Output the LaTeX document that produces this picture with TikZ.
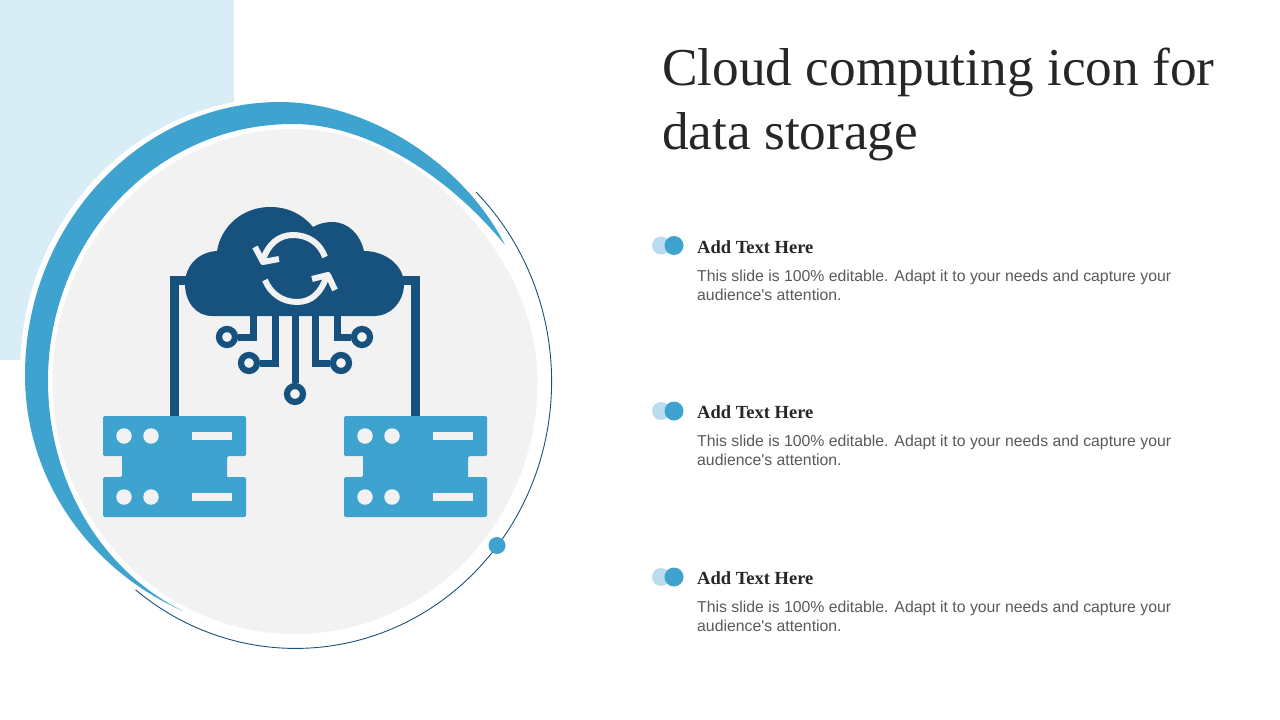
\documentclass[tikz,border=0pt]{standalone}
\usepackage{fontspec}
\setmainfont{Liberation Serif}
\newfontfamily\cuerpofont{Liberation Sans}
\definecolor{azuloscuro}{HTML}{17527F}
\definecolor{azul}{HTML}{3FA3D0}
\definecolor{azulclaro}{HTML}{BBDBEF}
\definecolor{celeste}{HTML}{D9EDF6}
\definecolor{gris}{HTML}{F2F2F2}
\tikzset{
	cable/.style={draw=azuloscuro, line width=7pt},
	cablegrueso/.style={draw=azuloscuro, line width=9pt},
	puerto/.style={circle, draw=azuloscuro, fill=gris, line width=6.2pt, minimum size=16pt, inner sep=0pt},
	flecha/.style={draw=gris, line width=6pt, line join=round},
	servidor/.style={fill=azul, rounded corners=1.5pt},
	luz/.style={circle, fill=gris, minimum size=15.5pt, inner sep=0pt},
	barra/.style={fill=gris},
	titulo/.style={anchor=north west, inner sep=0pt, align=left, text=black!85, font=\fontsize{53.3}{64}\selectfont},
	cabeza/.style={anchor=base west, inner sep=0pt, text=black!85, font=\fontsize{18.5}{19}\selectfont\bfseries},
	cuerpo/.style={anchor=north west, inner sep=0pt, align=left, text=black!65, font=\cuerpofont\fontsize{15.8}{19}\selectfont},
	marcaA/.style={circle, fill=azulclaro, minimum size=18pt, inner sep=0pt},
	marcaB/.style={circle, fill=azul, minimum size=19pt, inner sep=0pt},
}
\begin{document}
\begin{tikzpicture}[x=1pt, y=-1pt]
	\useasboundingbox (0, 0) rectangle (1280, 720);
	\fill[celeste] (0, 0) rectangle (234, 360);
	\fill[white] (279, 372) ellipse [x radius=259, y radius=274];
	\fill[azul] (505, 245) % media luna
	.. controls (462, 160) and (364, 102)
	.. (280, 102) .. controls (140, 102) and (25, 225)
	.. (25, 375) .. controls (25, 480) and (90, 570)
	.. (183, 611) .. controls (100, 570) and (48, 480)
	.. (48, 381) .. controls (48, 240) and (155, 124)
	.. (293, 124) .. controls (370, 124) and (450, 178)
	.. (505, 245);
	\fill[gris] (295, 129) % fondo
	.. controls (416, 129) and (537.5, 255)
	.. (537.5, 381.5) .. controls (537.5, 521) and (429, 634)
	.. (295, 634) .. controls (161, 634) and (52.5, 521)
	.. (52.5, 381.5) .. controls (52.5, 242) and (161, 129)
	.. (295, 129);
	\draw[azuloscuro, line width=0.9pt] (476, 192) arc [start angle=-45.2, end angle=128.7, x radius=256, y radius=267];
	\node[circle, fill=azul, minimum size=17pt, inner sep=0pt] (punto) at (497, 545.5) {};
	% conectores de la nube
	\coordinate (nubeI) at (195, 280.5);
	\coordinate (nubeD) at (395, 280.5);
	\coordinate (servI) at (174.5, 416);
	\coordinate (servD) at (415.5, 416);
	\draw[cablegrueso] (nubeI) -| (servI);
	\draw[cablegrueso] (nubeD) -| (servD);
	\node[puerto] (puerto1) at (227, 337) {};
	\node[puerto] (puerto2) at (249, 363) {};
	\node[puerto] (puerto3) at (295, 394) {};
	\node[puerto] (puerto4) at (341, 363) {};
	\node[puerto] (puerto5) at (362, 337) {};
	\coordinate (salida1) at (253.5, 310);
	\coordinate (salida2) at (275, 310);
	\coordinate (salida3) at (295, 310);
	\coordinate (salida4) at (315.5, 310);
	\coordinate (salida5) at (337, 310);
	\draw[cable] (salida1) |- (puerto1);
	\draw[cable] (salida2) |- (puerto2);
	\draw[cable] (salida3) -- (puerto3);
	\draw[cable] (salida4) |- (puerto4);
	\draw[cable] (salida5) |- (puerto5);
	\fill[azuloscuro] (212, 316) % forma de la nube
	.. controls (196, 316) and (185, 302)
	.. (185, 284) .. controls (185, 266) and (198, 252)
	.. (217, 251) .. controls (221, 226) and (243, 207)
	.. (270, 207) .. controls (288, 207) and (302, 214)
	.. (313, 227) .. controls (318, 224) and (325, 222)
	.. (332, 222) .. controls (348, 222) and (360, 234)
	.. (364, 251) .. controls (386, 251) and (404, 266)
	.. (404, 284) .. controls (404, 302) and (390, 316)
	.. (375, 316) -- cycle;
	\draw[flecha] (325, 257) % flechas circulares
	.. controls (320, 243) and (308, 235)
	.. (293, 235) .. controls (279, 235) and (268, 244)
	.. (263, 260);
	\draw[flecha] (255, 247) -- (263, 262) -- (279, 259);
	\draw[flecha] (265, 280)
	.. controls (270, 293) and (282, 302)
	.. (297, 302) .. controls (312, 302) and (321, 292)
	.. (326, 278);
	\draw[flecha] (312, 279) -- (328, 275) -- (335, 290);
	% servidor izquierdo
	\fill[servidor] (103, 416) -- (246, 416) -- (246, 456) -- (227, 456)
	[sharp corners] -- (227, 477) [rounded corners=1.5pt] -- (246, 477) -- (246, 517)
	-- (103, 517) -- (103, 477) -- (122, 477)
	[sharp corners] -- (122, 456) [rounded corners=1.5pt] -- (103, 456) -- cycle;
	\node[luz] (luzA) at (124, 436) {};
	\node[luz] (luzB) at (151, 436) {};
	\node[luz] (luzC) at (124, 497) {};
	\node[luz] (luzD) at (151, 497) {};
	\fill[barra] (192, 432) rectangle (232, 440);
	\fill[barra] (192, 493) rectangle (232, 501);
	% servidor derecho
	\fill[servidor] (344, 416) -- (487, 416) -- (487, 456) -- (468, 456)
	[sharp corners] -- (468, 477) [rounded corners=1.5pt] -- (487, 477) -- (487, 517)
	-- (344, 517) -- (344, 477) -- (363, 477)
	[sharp corners] -- (363, 456) [rounded corners=1.5pt] -- (344, 456) -- cycle;
	\node[luz] (luzE) at (365, 436) {};
	\node[luz] (luzF) at (392, 436) {};
	\node[luz] (luzG) at (365, 497) {};
	\node[luz] (luzH) at (392, 497) {};
	\fill[barra] (433, 432) rectangle (473, 440);
	\fill[barra] (433, 493) rectangle (473, 501);
	% textos
	\node[titulo] (titulo) at (662, 48) {Cloud computing icon for\\data storage};
	\node[marcaA] (marcaA1) at (661, 245.5) {};
	\node[marcaB] (marcaB1) at (674, 245.5) {};
	\node[cabeza] (cabeza1) at (697, 253) {Add Text Here};
	\node[cuerpo] (cuerpo1) at (697, 270) {This slide is 100\% editable. Adapt it to your needs and capture your\\audience's attention.};
	\node[marcaA] (marcaA2) at (661, 411) {};
	\node[marcaB] (marcaB2) at (674, 411) {};
	\node[cabeza] (cabeza2) at (697, 418) {Add Text Here};
	\node[cuerpo] (cuerpo2) at (697, 435) {This slide is 100\% editable. Adapt it to your needs and capture your\\audience's attention.};
	\node[marcaA] (marcaA3) at (661, 577) {};
	\node[marcaB] (marcaB3) at (674, 577) {};
	\node[cabeza] (cabeza3) at (697, 584) {Add Text Here};
	\node[cuerpo] (cuerpo3) at (697, 601) {This slide is 100\% editable. Adapt it to your needs and capture your\\audience's attention.};
\end{tikzpicture}
\end{document}
